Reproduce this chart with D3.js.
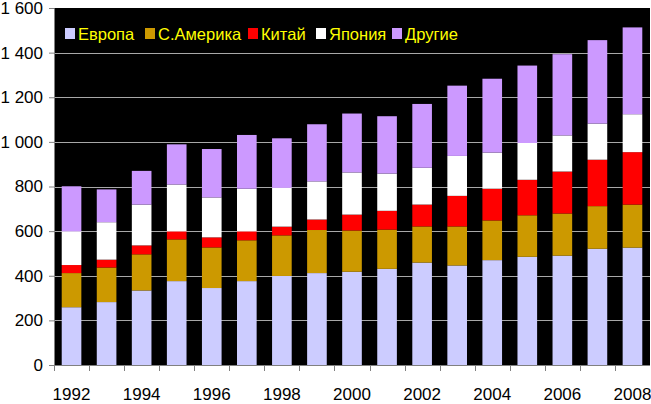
<!DOCTYPE html>
<html>
<head>
<meta charset="utf-8">
<script src="https://cdn.jsdelivr.net/npm/d3@7"></script>
<style>
html,body{margin:0;padding:0;background:#fff;}
svg{display:block;}
</style>
</head>
<body>
<svg id="chart" width="651" height="404"></svg>
<script>
const years = ["1992","1993","1994","1995","1996","1997","1998","1999","2000","2001","2002","2003","2004","2005","2006","2007","2008"];
const seriesNames = ["Европа","С.Америка","Китай","Япония","Другие"];
const europe   = [259,282,334,376,345,376,399,412,418,431,459,446,470,485,490,521,526];
const nAmerica = [153,155,162,187,182,183,182,193,185,176,162,175,178,186,189,191,193];
const china    = [ 36, 35, 40, 36, 45, 40, 39, 47, 71, 84, 98,137,142,159,188,208,235];
const japan    = [151,168,183,210,179,191,174,171,189,167,165,179,162,165,162,162,170];
const others   = [202,147,151,180,217,241,222,256,264,257,286,315,331,347,364,374,389];
const yTicks = [0,200,400,600,800,1000,1200,1400,1600];
const colors = ["#CCCCFF","#CC9900","#FF0000","#FFFFFF","#CC99FF"];

const seriesValues = [europe, nAmerica, china, japan, others];
const table = years.map((y,i)=>{
  const o = {year:y};
  seriesNames.forEach((s,k)=>{ o[s] = seriesValues[k][i]; });
  return o;
});

const svg = d3.select("#chart");
const L = 54, R = 650, T = 8, B = 365;
const font = "'Liberation Sans', Arial, sans-serif";

const x = d3.scaleBand().domain(years).range([L,R]).paddingInner(0.44).paddingOuter(0.22);
const y = d3.scaleLinear().domain([0,1600]).range([B,T]);

// plot background
svg.append("rect").attr("x",L).attr("y",T).attr("width",R-L).attr("height",B-T).attr("fill","#000");

// gridlines
svg.append("g").selectAll("line").data(yTicks.filter(d=>d>0 && d<1600)).join("line")
  .attr("x1",L).attr("x2",R).attr("y1",d=>Math.round(y(d))+0.5).attr("y2",d=>Math.round(y(d))+0.5)
  .attr("stroke","#a8a8a8").attr("stroke-width",1);

// stacked bars
const stack = d3.stack().keys(seriesNames)(table);
svg.append("g").selectAll("g").data(stack).join("g")
  .attr("fill",(d,i)=>colors[i])
  .selectAll("rect").data(d=>d).join("rect")
  .attr("x",d=>x(d.data.year))
  .attr("width",x.bandwidth())
  .attr("y",d=>y(d[1]))
  .attr("height",d=>y(d[0])-y(d[1]));

// y axis
const loc = d3.formatLocale({decimal:",",thousands:" ",grouping:[3],currency:["",""]});
const fmt = loc.format(",d");
const yAxis = d3.axisLeft(y).tickValues(yTicks).tickFormat(fmt).tickSize(5).tickPadding(6);
const gy = svg.append("g").attr("transform",`translate(${L},0)`).call(yAxis);
gy.select(".domain").attr("stroke","#808080");
gy.selectAll(".tick line").attr("stroke","#808080");
gy.selectAll("text").attr("font-family",font).attr("font-size",17).attr("fill","#000");

// x axis
const xAxis = d3.axisBottom(x).tickSize(0).tickPadding(23)
  .tickFormat(d=> (+d % 2 === 0) ? d : "");
const gx = svg.append("g").attr("transform",`translate(0,${B})`).call(xAxis);
gx.select(".domain").remove();
gx.selectAll("text").attr("font-family",font).attr("font-size",17).attr("fill","#000")
  .attr("dy",0).attr("y",35);
gx.append("line").attr("x1",L-5).attr("x2",R).attr("y1",0.5).attr("y2",0.5).attr("stroke","#808080");
const gap = x.step()*x.paddingInner()/2;
gx.append("g").selectAll("line").data(years).join("line")
  .attr("x1",d=>Math.round(x(d)-gap)+0.5).attr("x2",d=>Math.round(x(d)-gap)+0.5)
  .attr("y1",0).attr("y2",6).attr("stroke","#808080");

// legend
const legendX = [65,145,248,316,392];
const lg = svg.append("g");
seriesNames.forEach((s,i)=>{
  lg.append("rect").attr("x",legendX[i]).attr("y",28).attr("width",10).attr("height",11).attr("fill",colors[i]);
  lg.append("text").attr("x",legendX[i]+13).attr("y",39.5).text(s)
    .attr("font-family",font).attr("font-size",16.5).attr("fill","#FFFF00");
});
</script>
</body>
</html>
